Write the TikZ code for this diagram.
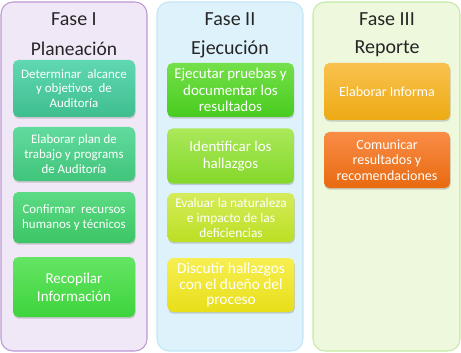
\documentclass[tikz,border=0pt]{standalone}
\usepackage{fontspec}
\setmainfont{Carlito}
\usetikzlibrary{shadows}

\tikzset{
    panel/.style={rounded corners=9pt, line width=0.8pt},
    title/.style={font=\fontsize{15}{18}\selectfont, text=black!85, anchor=center},
    tarea/.style={rounded corners=4pt, align=center, text=white,
        font=\fontsize{9.7}{11.2}\selectfont, inner sep=1pt,
        drop shadow={shadow xshift=0.4pt, shadow yshift=-1.3pt, opacity=0.35}},
}

\begin{document}
\begin{tikzpicture}[x=0.75pt, y=-0.75pt]
    % Colores de los paneles
    \definecolor{lilaF}{RGB}{241, 232, 247}  \definecolor{lilaB}{RGB}{188, 152, 211}
    \definecolor{azulF}{RGB}{221, 242, 251}  \definecolor{azulB}{RGB}{194, 230, 246}
    \definecolor{verdeF}{RGB}{237, 248, 221} \definecolor{verdeB}{RGB}{197, 233, 164}

    % Marco de la figura
    \useasboundingbox (0, 0) rectangle (461, 353);

    % Paneles de las tres fases
    \draw[panel, draw=lilaB, fill=lilaF] (1, 2) rectangle (147, 351);
    \draw[panel, draw=azulB, fill=azulF] (157, 2) rectangle (303, 351);
    \draw[panel, draw=verdeB, fill=verdeF] (313, 2) rectangle (460, 351);

    % Titulos
    \node[title] (t1a) at (74, 19) {Fase I};
    \node[title, font=\fontsize{14.6}{18}\selectfont] (t1b) at (74, 49) {Planeación};
    \node[title] (t2a) at (230, 19) {Fase II};
    \node[title] (t2b) at (230, 49) {Ejecución};
    \node[title] (t3a) at (387, 19) {Fase III};
    \node[title] (t3b) at (387, 49) {Reporte};

    % Fase I: tareas
    \node[tarea, top color={rgb,255:red,96;green,216;blue,178}, bottom color={rgb,255:red,62;green,190;blue,143},
        minimum width=91.5pt, minimum height=42.75pt] (p1) at (74, 88.5)
        {Determinar\ \ alcance\\y objetivos\ \ de\\Auditoría};
    \node[tarea, top color={rgb,255:red,98;green,219;blue,158}, bottom color={rgb,255:red,64;green,196;blue,122},
        minimum width=91.5pt, minimum height=40.5pt] (p2) at (74, 154)
        {Elaborar plan de\\trabajo y programs\\de Auditoría};
    \node[tarea, top color={rgb,255:red,92;green,219;blue,132}, bottom color={rgb,255:red,60;green,197;blue,102},
        minimum width=91.5pt, minimum height=38.25pt] (p3) at (74, 217.5)
        {Confirmar\ \ recursos\\humanos y técnicos};
    \node[tarea, top color={rgb,255:red,100;green,229;blue,100}, bottom color={rgb,255:red,62;green,212;blue,60},
        minimum width=91.5pt, minimum height=45pt, font=\fontsize{11.3}{13.5}\selectfont] (p4) at (74, 287)
        {Recopilar\\Información};

    % Fase II: tareas
    \node[tarea, top color={rgb,255:red,116;green,224;blue,74}, bottom color={rgb,255:red,72;green,204;blue,30},
        minimum width=95pt, minimum height=40.5pt, font=\fontsize{11.2}{12.3}\selectfont] (e1) at (230.5, 90)
        {Ejecutar pruebas y\\documentar los\\resultados};
    \node[tarea, top color={rgb,255:red,170;green,232;blue,90}, bottom color={rgb,255:red,132;green,216;blue,42},
        minimum width=95pt, minimum height=41.25pt, font=\fontsize{11.2}{12.3}\selectfont] (e2) at (230.5, 156)
        {Identificar los\\hallazgos};
    \node[tarea, top color={rgb,255:red,212;green,236;blue,90}, bottom color={rgb,255:red,188;green,223;blue,36},
        minimum width=95pt, minimum height=36.75pt, font=\fontsize{10}{11.2}\selectfont] (e3) at (231, 217.5)
        {Evaluar la naturaleza\\e impacto de las\\deficiencias};
    \node[tarea, top color={rgb,255:red,247;green,239;blue,82}, bottom color={rgb,255:red,232;green,222;blue,24},
        minimum width=95pt, minimum height=40.5pt, font=\fontsize{11.5}{11.8}\selectfont] (e4) at (231, 285)
        {Discutir hallazgos\\con el dueño del\\proceso};

    % Fase III: tareas
    \node[tarea, top color={rgb,255:red,249;green,194;blue,78}, bottom color={rgb,255:red,237;green,170;blue,20},
        minimum width=94.5pt, minimum height=42.75pt, font=\fontsize{10.5}{11.6}\selectfont] (r1) at (387, 91.5)
        {Elaborar Informa};
    \node[tarea, top color={rgb,255:red,249;green,140;blue,70}, bottom color={rgb,255:red,232;green,106;blue,16},
        minimum width=94.5pt, minimum height=42pt, font=\fontsize{10.5}{11.6}\selectfont] (r2) at (387, 160)
        {Comunicar\\resultados y\\recomendaciones};

\end{tikzpicture}
\end{document}
